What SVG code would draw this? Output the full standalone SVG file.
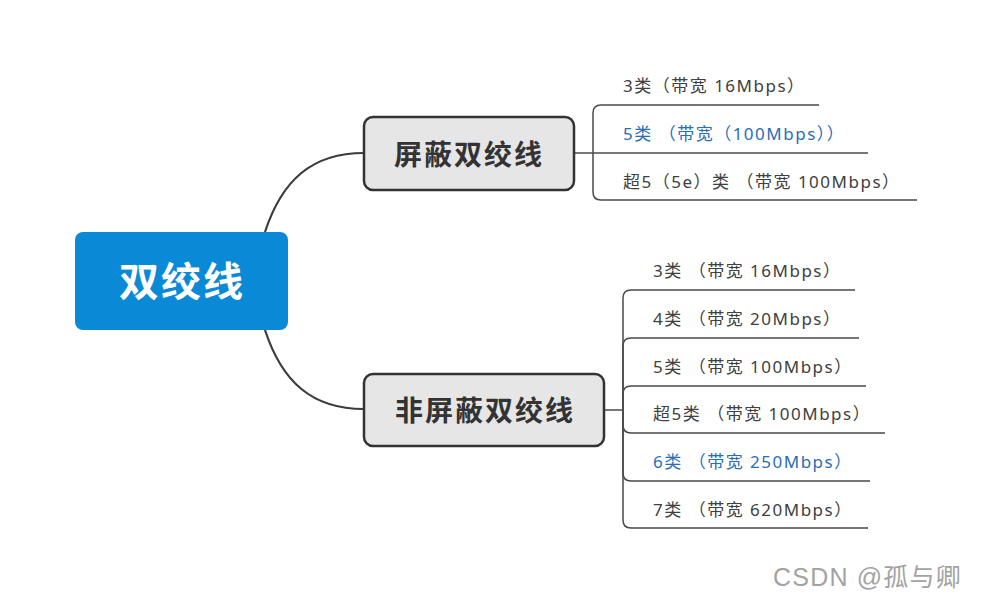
<svg xmlns="http://www.w3.org/2000/svg" width="996" height="598" viewBox="0 0 996 598">
<style>
.conn{fill:none;stroke:#3c3c3c;stroke-width:2.2}
.sub{fill:none;stroke:#4a4a4a;stroke-width:1.5}
.box{fill:#e6e6e6;stroke:#333;stroke-width:2.5}
.t{font-family:"Noto Sans","Noto Sans CJK SC",sans-serif;font-size:17px;fill:#404040;letter-spacing:1.5px}
.blue{fill:#2c6db5}
.title{font-family:"Noto Sans CJK SC",sans-serif;font-size:28px;font-weight:bold;fill:#333;letter-spacing:2px}
.root{font-family:"Noto Sans CJK SC",sans-serif;font-size:40px;font-weight:bold;fill:#fff;letter-spacing:2px}
</style>
<rect width="996" height="598" fill="#fff"/>
<g id="connectors">
<path class="conn" d="M265,232 C282,180 312,153 364,153"/>
<path class="conn" d="M265,330 C282,382 312,409 364,409"/>
<path class="sub" d="M574,153 H868"/>
<path class="sub" d="M593,153 V113 Q593,105 601,105 H819"/>
<path class="sub" d="M593,153 V192 Q593,200 601,200 H917"/>
<path class="sub" d="M604,410 H623"/>
<path class="sub" d="M623,410 V298 Q623,290 631,290 H855"/>
<path class="sub" d="M623,410 V346 Q623,338 631,338 H859"/>
<path class="sub" d="M623,410 V394 Q623,386 631,386 H866"/>
<path class="sub" d="M623,410 V425 Q623,433 631,433 H885"/>
<path class="sub" d="M623,410 V473 Q623,481 631,481 H870"/>
<path class="sub" d="M623,410 V520 Q623,528 631,528 H868"/>
</g>
<g id="root">
<rect x="75" y="232" width="213" height="98" rx="8" fill="#0a8ad6"/>
<text class="root" x="182" y="296" text-anchor="middle">双绞线</text>
</g>
<g id="shielded">
<rect class="box" x="364" y="117" width="210" height="73" rx="9"/>
<text class="title" x="469" y="165" text-anchor="middle">屏蔽双绞线</text>
</g>
<g id="unshielded">
<rect class="box" x="364" y="374" width="240" height="72" rx="9"/>
<text class="title" x="485" y="421" text-anchor="middle">非屏蔽双绞线</text>
</g>
<g id="s1"><text class="t" x="623" y="92">3类（带宽 16Mbps）</text></g>
<g id="s2"><text class="t blue" x="623" y="140">5类 （带宽（100Mbps））</text></g>
<g id="s3"><text class="t" x="623" y="188">超5（5e）类 （带宽 100Mbps）</text></g>
<g id="u1"><text class="t" x="653" y="277">3类 （带宽 16Mbps）</text></g>
<g id="u2"><text class="t" x="653" y="325">4类 （带宽 20Mbps）</text></g>
<g id="u3"><text class="t" x="653" y="373">5类 （带宽 100Mbps）</text></g>
<g id="u4"><text class="t" x="653" y="420">超5类 （带宽 100Mbps）</text></g>
<g id="u5"><text class="t blue" x="653" y="468">6类 （带宽 250Mbps）</text></g>
<g id="u6"><text class="t" x="653" y="516">7类 （带宽 620Mbps）</text></g>
<g id="watermark"><text x="773" y="586" font-family="'Liberation Sans','Noto Sans CJK SC',sans-serif" font-size="25" fill="#a3a3a3" letter-spacing="1.2">CSDN @孤与卿</text></g>
</svg>
